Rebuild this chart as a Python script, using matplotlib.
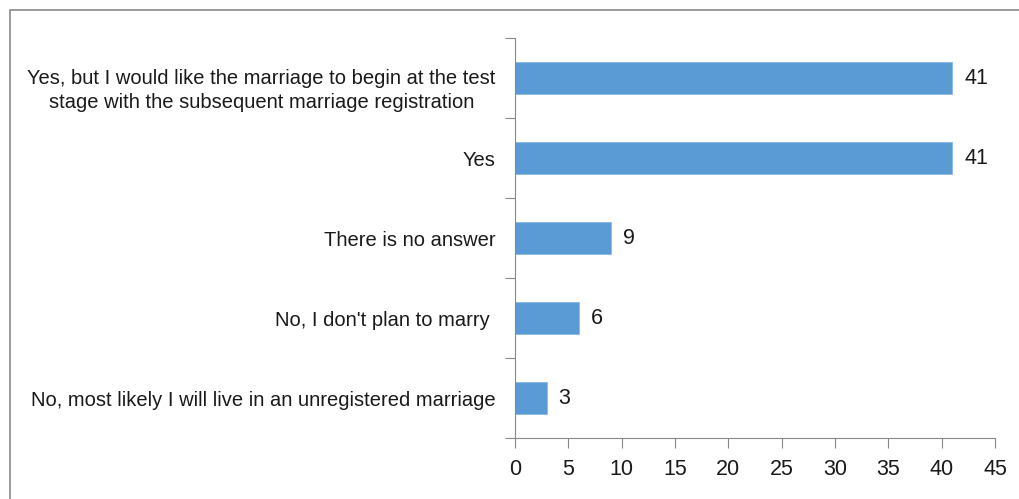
import matplotlib.pyplot as plt
from matplotlib.patches import Rectangle
from matplotlib.transforms import ScaledTranslation

categories = [
    "No, most likely I will live in an unregistered marriage",
    "No, I don't plan to marry ",
    "There is no answer",
    "Yes",
    "Yes, but I would like the marriage to begin at the test\nstage with the subsequent marriage registration",
]
values = [3, 6, 9, 41, 41]
xticks = [0, 5, 10, 15, 20, 25, 30, 35, 40, 45]

plt.rcParams["font.family"] = ["Liberation Sans", "DejaVu Sans"]

fig = plt.figure(figsize=(10.2, 4.99), dpi=100)
ax = fig.add_axes([515 / 1020, 1 - 438 / 499, 480 / 1020, 400 / 499])

pos = list(range(len(categories)))
ax.barh(pos, values, height=0.4, color="#5B9BD5", edgecolor="#8DB8E3", linewidth=0.6)
for p, v in zip(pos, values):
    ax.text(v + 1.1, p, str(v), va="center", ha="left", fontsize=15.5, color="#1a1a1a")

ax.set_xlim(0, 45)
ax.set_ylim(-0.5, len(categories) - 0.5)
ax.set_xticks(xticks)
ax.set_xticklabels([str(t) for t in xticks], fontsize=15.5, color="#1a1a1a")

# category labels between boundary ticks (Excel style)
ax.set_yticks([p + 0.5 for p in [-1] + pos])
ax.set_yticklabels([])
ax.set_yticks(pos, minor=True)
ax.set_yticklabels(categories, minor=True, fontsize=14.5, color="#1a1a1a",
                   ha="right", multialignment="center", linespacing=1.3)
ax.tick_params(axis="y", which="minor", length=0, pad=14)
ax.tick_params(axis="y", which="major", length=7, color="#888888", direction="out")
ax.tick_params(axis="x", length=7, color="#888888", direction="out", pad=8)

# the two-line label sits a little lower in the original
lab = ax.get_yticklabels(minor=True)[-1]
lab.set_transform(lab.get_transform() + ScaledTranslation(0, -8 / 100, fig.dpi_scale_trans))

for s in ["top", "right"]:
    ax.spines[s].set_visible(False)
for s in ["left", "bottom"]:
    ax.spines[s].set_color("#888888")

fig.patches.append(Rectangle((10 / 1020, -0.1), 1.1, 1 - 10 / 499 + 0.1, transform=fig.transFigure,
                             fill=False, edgecolor="#8a8a8a", linewidth=1.2))

fig.savefig("out.png", dpi=100)
